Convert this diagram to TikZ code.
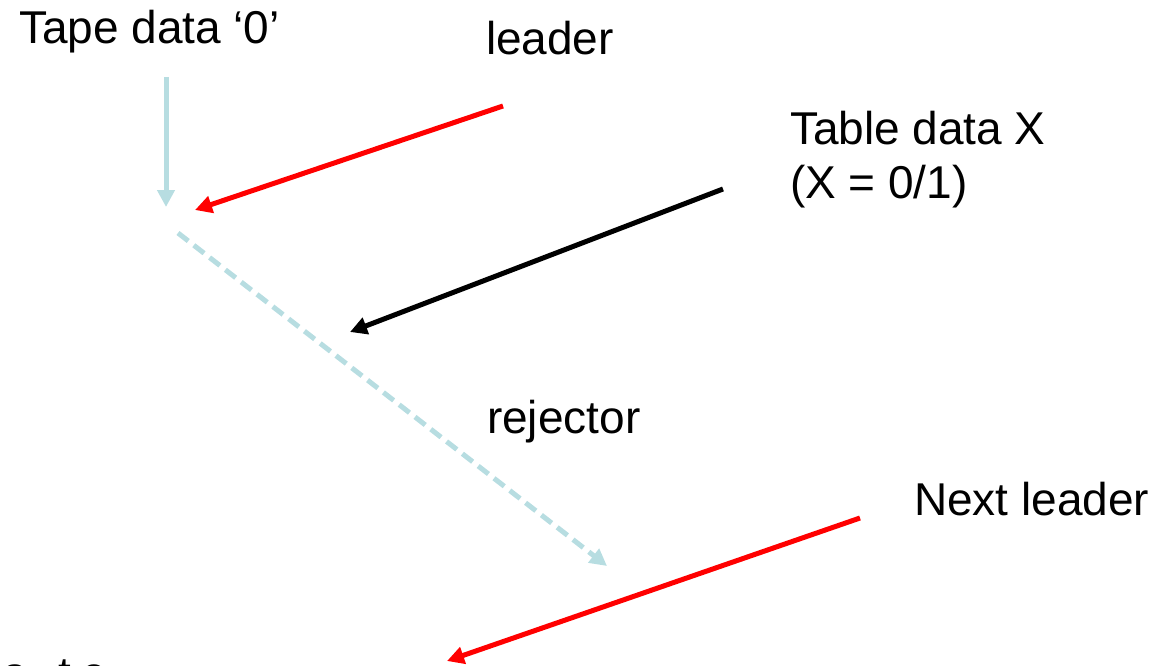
\documentclass[tikz,border=0pt]{standalone}
\usepackage{fontspec}
\setmainfont{Liberation Sans}
\usetikzlibrary{arrows.meta}
\definecolor{lblue}{RGB}{183,221,225}
\definecolor{pred}{RGB}{255,0,0}
\tikzset{
  lbl/.style={anchor=base west, inner sep=0pt, outer sep=0pt, font=\fontsize{46}{54}\selectfont, align=left},
  conn/.style={line width=5pt, -{Triangle[length=17pt,width=17pt]}},
  blueconn/.style={conn, draw=lblue},
  redconn/.style={conn, draw=pred},
  blackconn/.style={conn, draw=black},
}
\begin{document}
\begin{tikzpicture}[x=1pt,y=-1pt]
\useasboundingbox (0,0) rectangle (1172,666);
\clip (0,0) rectangle (1172,666);
% labels
\node[lbl] (tape) at (19,44) {Tape data ‘0’};
\node[lbl] (leader) at (486,55) {leader};
\node[lbl] (table) at (790,198) {Table data X\\(X = 0/1)};
\node[lbl] (rejector) at (487,433) {rejector};
\node[lbl] (next) at (914,515) {Next leader};
\node[lbl] (frag) at (2,689) {a\hspace{31pt}t\hspace{10pt}e};
% endpoints
\coordinate (tapeS) at (166,77);
\coordinate (tapeE) at (166,207);
\coordinate (leadS) at (503,106);
\coordinate (leadE) at (195,210);
\coordinate (rejS) at (178,233);
\coordinate (rejE) at (607,566);
\coordinate (tabS) at (723,189);
\coordinate (tabE) at (350,332);
\coordinate (nextS) at (860,518);
\coordinate (nextE) at (447,661);
% connectors
\draw[blueconn] (tapeS) -- (tapeE);
\draw[redconn] (leadS) -- (leadE);
\draw[blueconn, dash pattern=on 13pt off 7pt] (rejS) -- (rejE);
\draw[blackconn] (tabS) -- (tabE);
\draw[redconn] (nextS) -- (nextE);
\end{tikzpicture}
\end{document}
